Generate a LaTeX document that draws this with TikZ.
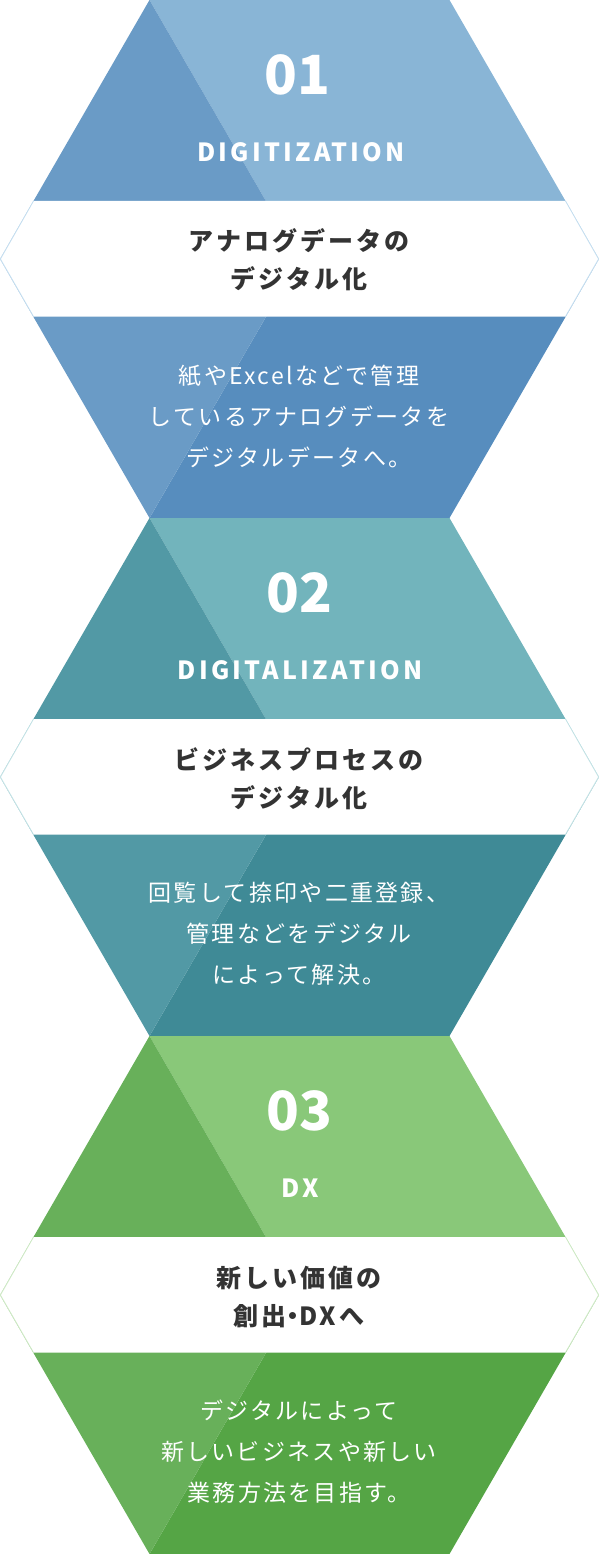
\documentclass[tikz,border=0pt]{standalone}
\usepackage{fontspec}
\setmainfont{Noto Sans CJK JP}
\definecolor{ink}{HTML}{333333}
\definecolor{aTop}{HTML}{89B5D6}
\definecolor{aMid}{HTML}{6A9BC6}
\definecolor{aBot}{HTML}{578DBE}
\definecolor{aEdge}{HTML}{C4DEF0}
\definecolor{bTop}{HTML}{72B4BC}
\definecolor{bMid}{HTML}{5299A5}
\definecolor{bBot}{HTML}{3F8A96}
\definecolor{bEdge}{HTML}{C2E2E5}
\definecolor{cTop}{HTML}{89C879}
\definecolor{cMid}{HTML}{68B05A}
\definecolor{cBot}{HTML}{55A545}
\definecolor{cEdge}{HTML}{CDE9C4}
\newcommand\hexpanel[5]{%
  \fill[#2] (149.5,#1) -- (449.5,#1) -- (599,#1+259) -- (299.5,#1+259) -- cycle;
  \fill[#4] (299.5,#1+259) -- (599,#1+259) -- (449.5,#1+518) -- (149.5,#1+518) -- cycle;
  \fill[#3] (149.5,#1) -- (299.5,#1+259) -- (149.5,#1+518) -- (0,#1+259) -- cycle;
  \fill[white] (33.5,#1+201) -- (565.5,#1+201) -- (599,#1+259) -- (565.5,#1+316.5) -- (33.5,#1+316.5) -- (0,#1+259) -- cycle;
  \draw[#5, line width=0.8pt] (33.5,#1+201) -- (0.4,#1+259) -- (33.5,#1+316.5);
  \draw[#5, line width=0.8pt] (565.5,#1+201) -- (598.6,#1+259) -- (565.5,#1+316.5);
}
\newcommand\narrowdot{{\addfontfeatures{RawFeature=+palt}・}}
\tikzset{
  numtxt/.style={text=white, inner sep=0pt, font=\fontsize{54}{54}\selectfont\bfseries},
  labtxt/.style={text=white, inner sep=0pt, font=\fontsize{25}{25}\selectfont\bfseries\addfontfeatures{LetterSpace=13}},
  ttltxt/.style={text=ink, inner sep=0pt, align=center, font=\fontsize{25}{38}\selectfont\bfseries\addfontfeatures{LetterSpace=12}},
  bodytxt/.style={text=white, inner sep=0pt, align=center, font=\fontsize{23}{41}\selectfont\addfontfeatures{LetterSpace=10}},
}
\begin{document}
\begin{tikzpicture}[x=1pt,y=-1pt]
\useasboundingbox (0,0) rectangle (599,1554);
\hexpanel{0}{aTop}{aMid}{aBot}{aEdge}
\hexpanel{518}{bTop}{bMid}{bBot}{bEdge}
\hexpanel{1036}{cTop}{cMid}{cBot}{cEdge}

\node[numtxt] (n1) at (297,75) {01};
\node[labtxt] (l1) at (301,152) {DIGITIZATION};
\node[ttltxt] (t1) at (299,260) {アナログデータの\\デジタル化};
\node[bodytxt] (b1) at (299,416) {紙やExcelなどで管理\\しているアナログデータを\\デジタルデータへ。};

\node[numtxt] (n2) at (299,593) {02};
\node[labtxt] (l2) at (300,670) {DIGITALIZATION};
\node[ttltxt] (t2) at (299,779) {ビジネスプロセスの\\デジタル化};
\node[bodytxt] (b2) at (299,934) {回覧して捺印や二重登録、\\管理などをデジタル\\によって解決。};

\node[numtxt] (n3) at (299,1111) {03};
\node[labtxt] (l3) at (300,1188) {DX};
\node[ttltxt] (t3) at (299,1297) {新しい価値の\\創出\narrowdot DXへ};
\node[bodytxt] (b3) at (299,1452) {デジタルによって\\新しいビジネスや新しい\\業務方法を目指す。};
\end{tikzpicture}
\end{document}
